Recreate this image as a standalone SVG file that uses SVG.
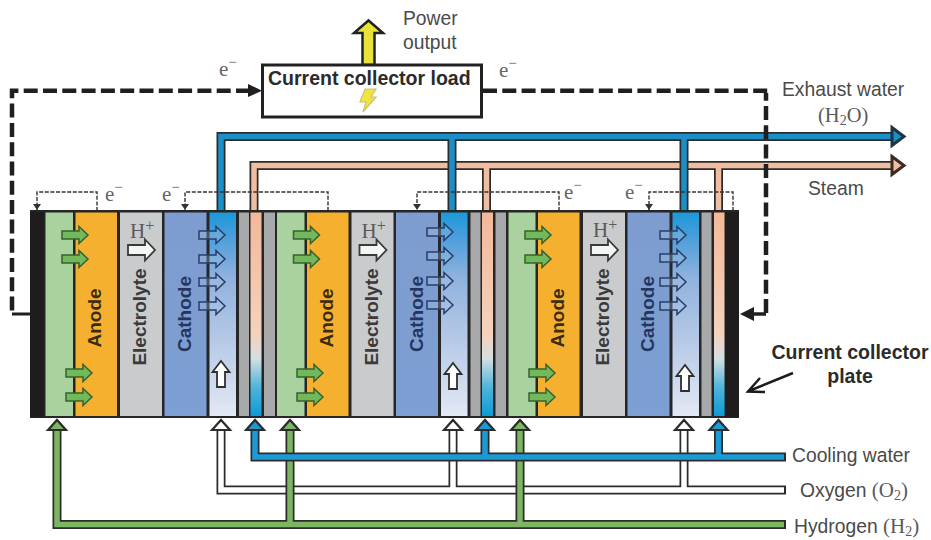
<svg xmlns="http://www.w3.org/2000/svg" width="931" height="540" viewBox="0 0 931 540">
<style>
text{font-family:"Liberation Sans",Arial,sans-serif}
.lbl{font-size:19.3px;fill:#4a4a4a}
.ser{font-family:"Liberation Serif","Times New Roman",serif;fill:#5a5a5a}
.e{font-family:"Liberation Serif","Times New Roman",serif;font-size:21px;fill:#666}
.b{font-size:19.5px;font-weight:bold;fill:#2b2b2b}
.rot{font-size:19px;font-weight:bold;text-anchor:middle}
.pd{fill:none;stroke:#2c2c2c;stroke-width:9}
.main{fill:none;stroke:#1f1f1f;stroke-width:4.5;stroke-dasharray:14 5.3}
.thin{fill:none;stroke:#333;stroke-width:1.4;stroke-dasharray:4 1.6}
.green{fill:#a9d29f}.orange{fill:#f5b02f}.elec{fill:#c9cbcc}.cath{fill:url(#gc)}.chan{fill:url(#gb)}.gray{fill:#a8a9aa}.cool{fill:url(#gp)}
</style>
<defs>
<linearGradient id="gb" x1="0" y1="211" x2="0" y2="416" gradientUnits="userSpaceOnUse"><stop offset="0" stop-color="#1a98d8"/><stop offset=".14" stop-color="#4f9fdc"/><stop offset=".32" stop-color="#8fb1de"/><stop offset=".65" stop-color="#b8cbe7"/><stop offset="1" stop-color="#e3e8f4"/></linearGradient>
<linearGradient id="gp" x1="0" y1="211" x2="0" y2="416" gradientUnits="userSpaceOnUse"><stop offset="0" stop-color="#f2b899"/><stop offset=".6" stop-color="#f5d2bd"/><stop offset=".72" stop-color="#d4dfe2"/><stop offset=".86" stop-color="#4fb4dc"/><stop offset="1" stop-color="#0c9bd6"/></linearGradient>
<linearGradient id="gc" x1="0" y1="211" x2="0" y2="416" gradientUnits="userSpaceOnUse"><stop offset="0" stop-color="#7e9ccf"/><stop offset="1" stop-color="#7d9fd3"/></linearGradient>
<path id="ag" d="M0,-4 H17 V-8.5 L26,0 L17,8.5 V4 H0Z" fill="#72b95c" stroke="#35632f" stroke-width="1.5"/>
<path id="ab" d="M0,-4 H17 V-8.5 L26,0 L17,8.5 V4 H0Z" fill="#a8c6e6" fill-opacity=".3" stroke="#2b3c68" stroke-width="1.5"/>
<path id="ah" d="M0,-5 H17 V-10.500 L27,0 L17,10.500 V5 H0Z" fill="#fff" fill-opacity=".8" stroke="#3a3a3a" stroke-width="1.800"/>
<path id="au" d="M-4,26 V11 H-8.500 L0,0 L8.500,11 H4 V26Z" fill="#fff" stroke="#2f2f2f" stroke-width="1.800"/>
<marker id="mt" markerWidth="7" markerHeight="8" refX="6" refY="4" orient="auto" markerUnits="userSpaceOnUse"><path d="M0,0 L6,4 L0,8Z" fill="#333"/></marker>
</defs>

<g id="connectors">
<g id="steam">
<path class="pd" d="M254,211 V165.500 H893 M486.500,211 V165.500 M718.500,211 V165.500"/>
<path d="M254,212 V165.500 H895 M486.500,212 V165.500 M718.500,212 V165.500" fill="none" stroke="#f0bda0" stroke-width="5.500"/>
<path d="M892,156.500 L904,165.500 L892,174.500Z" fill="#f0bda0" stroke="#3d2a20" stroke-width="3"/>
</g>
<g id="exhaust-water">
<path class="pd" d="M221,211 V136.500 H893 M452,211 V136.500 M684,211 V136.500"/>
<path d="M221,212 V136.500 H895 M452,212 V136.500 M684,212 V136.500" fill="none" stroke="#1b8fc8" stroke-width="5.500"/>
<path d="M892,127.500 L904,136.500 L892,145.500Z" fill="#1b8fc8" stroke="#1f3442" stroke-width="3"/>
</g>
<g id="oxygen">
<path class="pd" d="M221,430 V490 H786 M453,430 V490 M684,430 V490"/>
<path d="M221,430 V490 H784 M453,430 V490 M684,430 V490" fill="none" stroke="#fff" stroke-width="5.500"/>
<path d="M212,430 L221,420 L230,430Z M444,430 L453,420 L462,430Z M675,430 L684,420 L693,430Z" fill="#fff" stroke="#2c2c2c" stroke-width="2.200"/>
</g>
<g id="hydrogen">
<path class="pd" d="M57,430 V524.500 H786 M290,430 V524.500 M520,430 V524.500"/>
<path d="M57,430 V524.500 H784 M290,430 V524.500 M520,430 V524.500" fill="none" stroke="#7cb662" stroke-width="5.500"/>
<path d="M48,430 L57,420 L66,430Z M281,430 L290,420 L299,430Z M511,430 L520,420 L529,430Z" fill="#7cb662" stroke="#2c2c2c" stroke-width="2.200"/>
</g>
<g id="cooling-water">
<path class="pd" d="M255,430 V457 H786 M485,430 V457 M718.500,430 V457"/>
<path d="M255,430 V457 H784 M485,430 V457 M718.500,430 V457" fill="none" stroke="#1b9ad6" stroke-width="5.500"/>
<path d="M246,430 L255,420 L264,430Z M476,430 L485,420 L494,430Z M709.500,430 L718.500,420 L727.500,430Z" fill="#1b9ad6" stroke="#2c2c2c" stroke-width="2.200"/>
</g>
<g id="electron-loop">
<path class="main" d="M250,90.700 H12 V313"/>
<path d="M12,314 H30" fill="none" stroke="#1f1f1f" stroke-width="3"/>
<path d="M248,84 L262,90.700 L248,97Z" fill="#1f1f1f"/>
<path class="main" d="M483,90.700 H768"/>
<path class="main" d="M766,93 V313" stroke-dashoffset="6.300"/>
<path d="M766,314 H752" fill="none" stroke="#1f1f1f" stroke-width="3.500"/>
<path d="M754,307 L740,314 L754,321Z" fill="#1f1f1f"/>
</g>
<g id="electron-links">
<path class="thin" d="M97,211 V192 H37 V210" marker-end="url(#mt)"/>
<path class="thin" d="M328,211 V192 H185 V210" marker-end="url(#mt)"/>
<path class="thin" d="M559,211 V192 H417 V210" marker-end="url(#mt)"/>
<path class="thin" d="M733,211 V192 H649 V210" marker-end="url(#mt)"/>
</g>
<g id="power-arrow">
<path d="M362.500,65 V33 H354 L368.500,20.500 L383,33 H374.500 V65Z" fill="#e8e437" stroke="#222" stroke-width="2.500"/>
</g>
<g id="plate-pointer">
<path d="M793,373 L749,391 M760,378 L748,391.500 L765,392" fill="none" stroke="#1c1c1c" stroke-width="2.500"/>
</g>
</g>

<g id="collector-load">
<rect x="262.500" y="65" width="219" height="52" fill="#fff" stroke="#222" stroke-width="3"/>
<text class="b" x="268" y="85">Current collector load</text>
<path d="M365,89 L376,89 L371,97 L376,97 L363,112 L366,102 L360,102Z" fill="#f0e53c" stroke="#c6c27c" stroke-width="1.200"/>
</g>

<g id="stack-frame"><rect x="30" y="210" width="709" height="208" fill="#262626"/></g>

<g id="cell-1">
<rect x="30" y="212" width="14" height="205" fill="#1e1c1c"/>
<rect class="green" x="45.500" y="212.500" width="27.500" height="203.500"/>
<rect class="orange" x="75.500" y="212.500" width="41.500" height="203.500"/>
<rect class="elec" x="120" y="212.500" width="42" height="203.500"/>
<rect class="cath" x="164.500" y="212.500" width="42" height="203.500"/>
<rect class="chan" x="209.500" y="212.500" width="26.500" height="203.500"/>
<rect class="gray" x="239" y="212.500" width="10" height="203.500"/>
<rect class="cool" x="250.500" y="212.500" width="11" height="203.500"/>
<text class="rot" transform="translate(101,318) rotate(-90)" fill="#3c2c12">Anode</text>
<text class="rot" transform="translate(146,317) rotate(-90)" fill="#3a3a3a">Electrolyte</text>
<text class="rot" transform="translate(191,314) rotate(-90)" fill="#24365f">Cathode</text>
<text class="ser" x="130" y="238" font-size="21">H<tspan dy="-7" font-size="16">+</tspan></text>
<use href="#ah" x="128" y="250"/>
<use href="#ag" x="62" y="235"/><use href="#ag" x="62" y="259"/><use href="#ag" x="66" y="373"/><use href="#ag" x="66" y="397"/>
<use href="#ab" x="199" y="235"/><use href="#ab" x="199" y="259"/><use href="#ab" x="199" y="282"/><use href="#ab" x="199" y="306"/>
<use href="#au" x="221" y="361"/>
</g>

<g id="cell-2">
<rect class="gray" x="264" y="212.500" width="11" height="203.500"/>
<rect class="green" x="277" y="212.500" width="27.500" height="203.500"/>
<rect class="orange" x="307" y="212.500" width="41.500" height="203.500"/>
<rect class="elec" x="351.500" y="212.500" width="42" height="203.500"/>
<rect class="cath" x="396" y="212.500" width="42" height="203.500"/>
<rect class="chan" x="441" y="212.500" width="26.500" height="203.500"/>
<rect class="gray" x="470.500" y="212.500" width="10" height="203.500"/>
<rect class="cool" x="482" y="212.500" width="11" height="203.500"/>
<text class="rot" transform="translate(332.500,318) rotate(-90)" fill="#3c2c12">Anode</text>
<text class="rot" transform="translate(377.500,317) rotate(-90)" fill="#3a3a3a">Electrolyte</text>
<text class="rot" transform="translate(423,314) rotate(-90)" fill="#24365f">Cathode</text>
<text class="ser" x="361.500" y="238" font-size="21">H<tspan dy="-7" font-size="16">+</tspan></text>
<use href="#ah" x="359.500" y="250"/>
<use href="#ag" x="293.500" y="235"/><use href="#ag" x="293.500" y="259"/><use href="#ag" x="297" y="373"/><use href="#ag" x="297" y="397"/>
<use href="#ab" x="427" y="232"/><use href="#ab" x="427" y="256"/><use href="#ab" x="427" y="281"/><use href="#ab" x="427" y="305"/>
<use href="#au" x="453" y="363"/>
</g>

<g id="cell-3">
<rect class="gray" x="495.500" y="212.500" width="10.500" height="203.500"/>
<rect class="green" x="508.500" y="212.500" width="27" height="203.500"/>
<rect class="orange" x="538" y="212.500" width="41.500" height="203.500"/>
<rect class="elec" x="583" y="212.500" width="42" height="203.500"/>
<rect class="cath" x="627.500" y="212.500" width="42" height="203.500"/>
<rect class="chan" x="672.500" y="212.500" width="26.500" height="203.500"/>
<rect class="gray" x="701.500" y="212.500" width="10" height="203.500"/>
<rect class="cool" x="714" y="212.500" width="10.500" height="203.500"/>
<rect x="725" y="212" width="14" height="205" fill="#1e1c1c"/>
<text class="rot" transform="translate(564,318) rotate(-90)" fill="#3c2c12">Anode</text>
<text class="rot" transform="translate(609,317) rotate(-90)" fill="#3a3a3a">Electrolyte</text>
<text class="rot" transform="translate(654,314) rotate(-90)" fill="#24365f">Cathode</text>
<text class="ser" x="593" y="237" font-size="21">H<tspan dy="-7" font-size="16">+</tspan></text>
<use href="#ah" x="591" y="250"/>
<use href="#ag" x="525" y="235"/><use href="#ag" x="525" y="259"/><use href="#ag" x="529" y="373"/><use href="#ag" x="529" y="397"/>
<use href="#ab" x="660" y="235"/><use href="#ab" x="660" y="258"/><use href="#ab" x="660" y="282"/><use href="#ab" x="660" y="306"/>
<use href="#au" x="685" y="365"/>
</g>

<g id="labels">
<text class="lbl" x="403" y="25">Power</text>
<text class="lbl" x="403" y="49">output</text>
<text class="e" x="219" y="76">e<tspan dy="-9" font-size="15">−</tspan></text>
<text class="e" x="499" y="77">e<tspan dy="-9" font-size="15">−</tspan></text>
<text class="e" x="105" y="201">e<tspan dy="-9" font-size="15">−</tspan></text>
<text class="e" x="162" y="201">e<tspan dy="-9" font-size="15">−</tspan></text>
<text class="e" x="564" y="199">e<tspan dy="-9" font-size="15">−</tspan></text>
<text class="e" x="625" y="199">e<tspan dy="-9" font-size="15">−</tspan></text>
<text class="lbl" x="782" y="96">Exhaust water</text>
<text class="ser" x="818" y="122" font-size="20.500">(H<tspan font-size="14" dy="3">2</tspan><tspan dy="-3">O)</tspan></text>
<text class="lbl" x="808" y="195">Steam</text>
<text class="b" x="850" y="359" text-anchor="middle">Current collector</text>
<text class="b" x="850" y="383" text-anchor="middle">plate</text>
<text class="lbl" x="792" y="462">Cooling water</text>
<text class="lbl" x="800" y="497">Oxygen <tspan class="ser" font-size="21">(O<tspan font-size="14" dy="3">2</tspan><tspan dy="-3">)</tspan></tspan></text>
<text class="lbl" x="794" y="533">Hydrogen <tspan class="ser" font-size="21">(H<tspan font-size="14" dy="3">2</tspan><tspan dy="-3">)</tspan></tspan></text>
</g>
</svg>
